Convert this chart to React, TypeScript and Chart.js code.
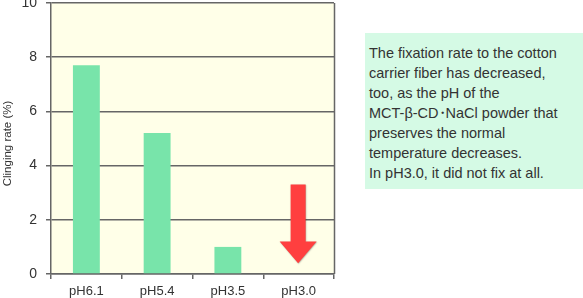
import React, { useEffect, useRef } from "react";
import { Chart, registerables } from "chart.js";

Chart.register(...registerables);

const categories = ["pH6.1", "pH5.4", "pH3.5", "pH3.0"];
const clingingRate = [7.7, 5.2, 1.0, 0];
const yTicks = [0, 2, 4, 6, 8, 10];
const yTitle = "Clinging rate (%)";
const arrowCategoryIndex = 3;
const arrowTopValue = 3.3;
const arrowHeadBaseValue = 1.2;
const arrowTipValue = 0.4;
const noteLines = [
  "The fixation rate to the cotton",
  "carrier fiber has decreased,",
  "too, as the pH of the",
  "MCT-β-CD・NaCl powder that",
  "preserves the normal",
  "temperature decreases.",
  "In pH3.0, it did not fix at all.",
];

const FONT = "'Liberation Sans', Arial, Helvetica, sans-serif";

const plotDecor = {
  id: "plotDecor",
  beforeDraw(chart: any) {
    const { ctx, chartArea: a } = chart;
    ctx.save();
    ctx.fillStyle = "#FFFFE8";
    ctx.fillRect(a.left, a.top, a.right - a.left, a.bottom - a.top);
    ctx.restore();
  },
  afterDraw(chart: any) {
    const { ctx, chartArea: a } = chart;
    ctx.save();
    ctx.strokeStyle = "#666666";
    ctx.lineWidth = 1.5;
    ctx.beginPath();
    ctx.moveTo(Math.round(a.right) + 0.5, a.top);
    ctx.lineTo(Math.round(a.right) + 0.5, a.bottom);
    ctx.stroke();
    ctx.translate(8, (a.top + a.bottom) / 2 + 5);
    ctx.rotate(-Math.PI / 2);
    ctx.fillStyle = "#333333";
    ctx.font = `11.5px ${FONT}`;
    ctx.textAlign = "center";
    ctx.textBaseline = "middle";
    ctx.fillText(yTitle, 0, 0);
    ctx.restore();
  },
  afterDatasetsDraw(chart: any) {
    const { ctx } = chart;
    const xs = chart.scales.x;
    const ys = chart.scales.y;
    const cx = xs.getPixelForValue(arrowCategoryIndex) - 0.5;
    const yTop = ys.getPixelForValue(arrowTopValue);
    const yHead = ys.getPixelForValue(arrowHeadBaseValue);
    const yTip = ys.getPixelForValue(arrowTipValue);
    const shaft = 7.5;
    const head = 18.5;
    ctx.save();
    ctx.shadowColor = "rgba(0,0,0,0.35)";
    ctx.shadowBlur = 1.5;
    ctx.shadowOffsetX = 0.5;
    ctx.shadowOffsetY = 0.5;
    ctx.fillStyle = "#FF3F3F";
    ctx.beginPath();
    ctx.moveTo(cx - shaft, yTop);
    ctx.lineTo(cx + shaft, yTop);
    ctx.lineTo(cx + shaft, yHead);
    ctx.lineTo(cx + head, yHead);
    ctx.lineTo(cx, yTip);
    ctx.lineTo(cx - head, yHead);
    ctx.lineTo(cx - shaft, yHead);
    ctx.closePath();
    ctx.fill();
    ctx.restore();
  },
};

function renderLine(l: string) {
  const parts = l.split("・");
  const out: any[] = [];
  parts.forEach((p, i) => {
    if (i > 0) out.push(<span key={"d" + i} style={{ margin: "0 -4px" }}>・</span>);
    out.push(<span key={"p" + i}>{p}</span>);
  });
  return out;
}

export default function App() {
  const ref = useRef<HTMLCanvasElement>(null);

  useEffect(() => {
    if (!ref.current) return;
    const chart = new Chart(ref.current, {
      type: "bar",
      data: {
        labels: categories,
        datasets: [
          {
            data: clingingRate,
            backgroundColor: "#78E4AA",
            borderWidth: 0,
            barPercentage: 0.76,
            categoryPercentage: 0.5,
          },
        ],
      },
      options: {
        responsive: false,
        animation: false,
        devicePixelRatio: 1,
        layout: { padding: { left: 0, top: 3, right: 249, bottom: 0 } },
        plugins: {
          legend: { display: false },
          tooltip: { enabled: false },
        },
        scales: {
          x: {
            offset: true,
            grid: {
              offset: true,
              drawOnChartArea: false,
              drawTicks: true,
              tickLength: 5,
              color: "#666666",
              lineWidth: 1.5,
            },
            border: { display: true, color: "#666666", width: 1.5 },
            ticks: {
              color: "#333333",
              font: { family: FONT, size: 13 },
              padding: 5,
              maxRotation: 0,
            },
            afterFit(scale: any) {
              scale.height = 24;
              scale.paddingLeft = 0;
              scale.paddingRight = 0;
            },
          },
          y: {
            min: 0,
            max: 10,
            afterBuildTicks(scale: any) {
              scale.ticks = yTicks.map((v) => ({ value: v }));
            },
            grid: {
              color: "#666666",
              lineWidth: 1.5,
              tickLength: 5,
            },
            border: { display: true, color: "#666666", width: 1.5 },
            ticks: {
              color: "#333333",
              font: { family: FONT, size: 14 },
              padding: 9,
            },
            afterFit(scale: any) {
              scale.width = 51;
              scale.paddingTop = 0;
              scale.paddingBottom = 0;
            },
          },
        },
      },
      plugins: [plotDecor],
    });
    return () => chart.destroy();
  }, []);

  return (
    <div style={{ position: "absolute", left: 0, top: 0, width: 583, height: 298, background: "#FFFFFF" }}>
      <canvas ref={ref} width={583} height={298} style={{ position: "absolute", left: 0, top: 0 }} />
      <div
        style={{
          position: "absolute",
          left: 365,
          top: 33,
          width: 218,
          height: 156,
          boxSizing: "border-box",
          background: "#D5FAE5",
          padding: "10px 0 0 4px",
          fontFamily: FONT,
          fontSize: 14.5,
          lineHeight: "20px",
          color: "#333333",
          whiteSpace: "nowrap",
          overflow: "hidden",
        }}
      >
        {noteLines.map((l, i) => (
          <div key={i}>{renderLine(l)}</div>
        ))}
      </div>
    </div>
  );
}
